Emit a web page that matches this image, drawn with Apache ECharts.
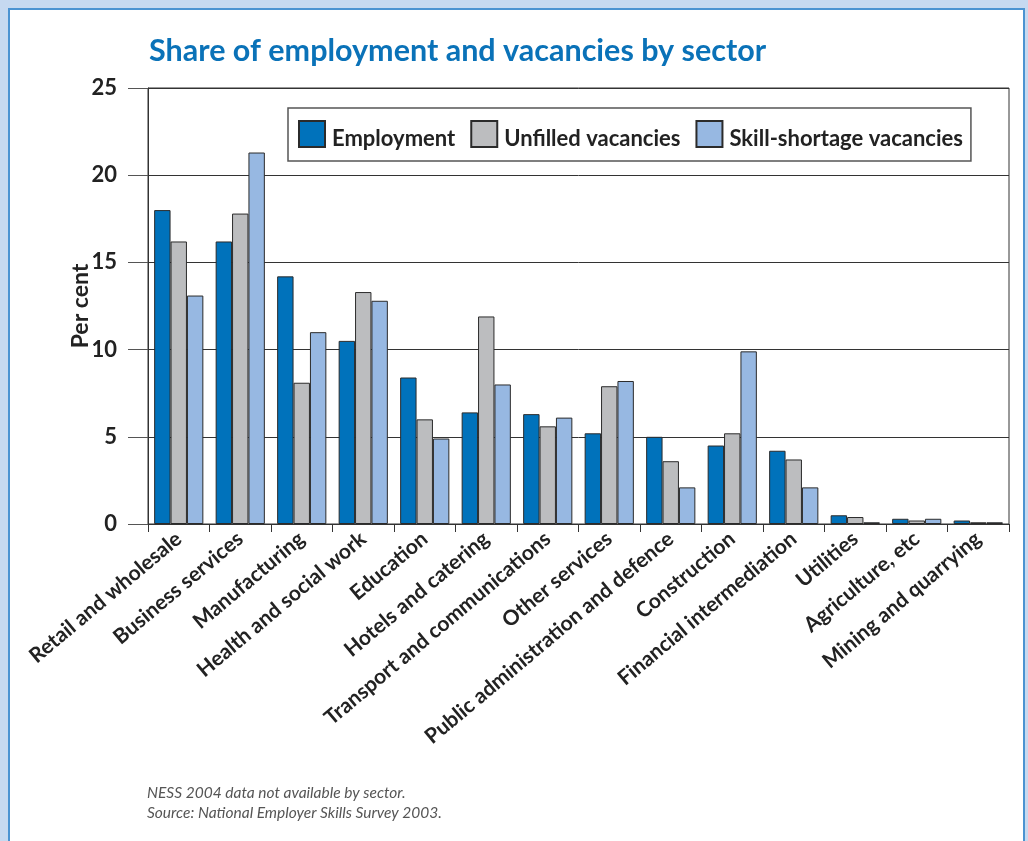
<!DOCTYPE html>
<html>
<head>
<meta charset="utf-8">
<script src="https://cdn.jsdelivr.net/npm/echarts@6/dist/echarts.min.js"></script>
<style>
  html, body { margin: 0; padding: 0; width: 1028px; height: 841px; background: #c6d9f0; overflow: hidden; }
  #panel { position: absolute; left: 8px; top: 8px; width: 1017px; height: 850px; background: #ffffff; border: 2px solid #4b93d1; box-sizing: border-box; }
  #chart { position: absolute; left: 0; top: 0; width: 1028px; height: 841px; }
</style>
</head>
<body>
<div id="panel"></div>
<div id="chart"></div>
<script>
// Sectors, in the order shown along the horizontal axis
const sectors = [
  'Retail and wholesale', 'Business services', 'Manufacturing', 'Health and social work',
  'Education', 'Hotels and catering', 'Transport and communications', 'Other services',
  'Public administration and defence', 'Construction', 'Financial intermediation',
  'Utilities', 'Agriculture, etc', 'Mining and quarrying'
];

// Share (%) of each measure by sector
const employment      = [18.0, 16.2, 14.2, 10.5, 8.4, 6.4, 6.3, 5.2, 5.0, 4.5, 4.2, 0.5, 0.3, 0.2];
const unfilled        = [16.2, 17.8, 8.1, 13.3, 6.0, 11.9, 5.6, 7.9, 3.6, 5.2, 3.7, 0.4, 0.2, 0.1];
const skillShortage   = [13.1, 21.3, 11.0, 12.8, 4.9, 8.0, 6.1, 8.2, 2.1, 9.9, 2.1, 0.1, 0.3, 0.1];

const seriesNames = ['Employment', 'Unfilled vacancies', 'Skill-shortage vacancies'];
const yTicks = [0, 5, 10, 15, 20, 25];

const FONT = 'Lato, "Open Sans", sans-serif';
const colors = ['#0072bb', '#bcbdbf', '#97b8e2'];

// Legend swatch: a square sitting in the top part of a taller box, so the
// label (centred on the box) lines up slightly below the swatch centre.
const SWATCH = 'path://M0,0L26,0L26,26L0,26Z M0,36L0,36';

const chart = echarts.init(document.getElementById('chart'), null, { renderer: 'canvas' });

function barSeries(name, data, color) {
  return {
    name: name,
    type: 'bar',
    data: data,
    barGap: '0%',
    barCategoryGap: '20%',
    itemStyle: { color: color, borderColor: '#2b2b2b', borderWidth: 1 },
    emphasis: { disabled: true }
  };
}

chart.setOption({
  animation: false,
  backgroundColor: 'transparent',
  title: {
    text: 'Share of employment and vacancies by sector',
    left: 144,
    top: 31,
    textStyle: { fontFamily: FONT, fontSize: 30.5, fontWeight: 'bold', color: '#0a72b8' }
  },
  legend: {
    data: seriesNames,
    left: 288,
    top: 108,
    orient: 'horizontal',
    icon: SWATCH,
    backgroundColor: '#ffffff',
    borderColor: '#555555',
    borderWidth: 1.5,
    padding: [12, 8, 3, 10],
    itemWidth: 26,
    itemHeight: 36,
    itemGap: 15,
    textStyle: { fontFamily: FONT, fontSize: 22, fontWeight: 'bold', color: '#222222', padding: [0, 0, 0, 2] }
  },
  grid: {
    left: 148,
    top: 88,
    right: 19,
    bottom: 317,
    show: true,
    backgroundColor: '#ffffff',
    borderColor: '#333333',
    borderWidth: 1
  },
  xAxis: {
    type: 'category',
    data: sectors,
    axisLine: { show: true, lineStyle: { color: '#333333', width: 1 } },
    axisTick: { show: true, length: 8, lineStyle: { color: '#333333' } },
    axisLabel: {
      rotate: 40,
      interval: 0,
      margin: 12,
      fontFamily: FONT,
      fontSize: 21,
      fontWeight: 'bold',
      color: '#222222'
    }
  },
  yAxis: {
    type: 'value',
    min: yTicks[0],
    max: yTicks[yTicks.length - 1],
    interval: 5,
    name: 'Per cent',
    nameLocation: 'middle',
    nameRotate: 90,
    nameGap: 56,
    nameMoveOverlap: false,
    nameTextStyle: { fontFamily: FONT, fontSize: 23, fontWeight: 'bold', color: '#222222' },
    axisLine: { show: true, lineStyle: { color: '#333333', width: 1 } },
    axisTick: { show: true, length: 20, lineStyle: { color: '#555555' } },
    axisLabel: {
      margin: 31,
      fontFamily: FONT,
      fontSize: 22,
      fontWeight: 'bold',
      color: '#222222'
    },
    splitLine: { show: true, lineStyle: { color: '#333333', width: 1 } }
  },
  series: [
    barSeries(seriesNames[0], employment, colors[0]),
    barSeries(seriesNames[1], unfilled, colors[1]),
    barSeries(seriesNames[2], skillShortage, colors[2])
  ],
  graphic: [
    {
      type: 'text',
      left: 147,
      top: 783,
      style: {
        text: 'NESS 2004 data not available by sector.\nSource: National Employer Skills Survey 2003.',
        font: 'italic 15.5px ' + FONT,
        fill: '#555555',
        lineHeight: 20
      }
    }
  ]
});
</script>
</body>
</html>
